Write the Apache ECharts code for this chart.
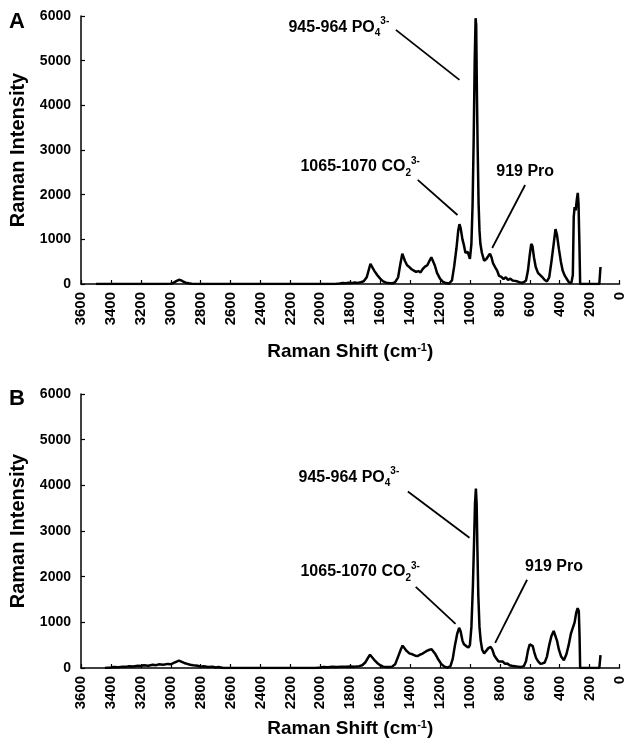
<!DOCTYPE html>
<html>
<head>
<meta charset="utf-8">
<script src="https://cdn.jsdelivr.net/npm/echarts@6/dist/echarts.min.js"></script>
<style>
  html, body { margin: 0; padding: 0; background: #fff; }
  #main { width: 627px; height: 745px; }
</style>
</head>
<body>
<div id="main"></div>
<script>
// panel A spectrum (Raman shift cm-1 -> intensity)
const shiftA = [
  3500, 3100, 3000, 2980, 2960, 2945, 2930, 2915, 2900, 2880, 2860, 2800,
  1900, 1870, 1850, 1830, 1810, 1790, 1770, 1750, 1730, 1710, 1690, 1675, 1665, 1655, 1640, 1620, 1600, 1580, 1560, 1540, 1520,
  1500, 1480, 1465, 1452, 1445, 1435, 1420, 1405, 1390, 1375, 1360, 1345, 1330, 1315, 1300, 1285, 1270, 1258, 1248, 1235, 1220, 1200, 1180, 1160, 1140,
  1120, 1105, 1090, 1078, 1070, 1062, 1050, 1040, 1030, 1015, 1000, 990, 982, 975, 968, 962, 958, 953, 948, 942, 936, 930,
  920, 905, 890, 878, 866, 856, 845, 832, 818, 805, 790, 775, 760, 745, 730, 715, 700, 685, 670, 655, 640,
  625, 612, 600, 590, 582, 572, 560, 545, 530, 515, 500, 485, 470, 455, 440, 428, 418, 405, 392, 380, 365, 350, 338, 322,
  312, 306, 300, 293, 285, 279, 274, 268, 263, 135, 128, 127
];
const intensityA = [
  0, 0, 5, 30, 70, 95, 80, 50, 30, 15, 5, 0,
  0, 10, 20, 15, 30, 20, 35, 25, 40, 60, 150, 330, 450, 420, 300, 200, 120, 60, 30, 20, 15,
  40, 150, 450, 680, 650, 520, 420, 380, 330, 300, 270, 290, 260, 340, 390, 420, 520, 600, 560, 420, 250, 120, 50, 20, 10,
  80, 400, 800, 1200, 1340, 1250, 1000, 870, 700, 720, 560, 900, 1800, 3200, 5000, 5950, 5800, 4200, 3000, 1800, 1200, 900,
  700, 520, 560, 620, 680, 600, 460, 380, 300, 180, 160, 110, 150, 90, 120, 80, 70, 60, 40, 30, 40,
  80, 300, 650, 900, 850, 600, 380, 250, 200, 150, 90, 60, 150, 500, 900, 1230, 1100, 780, 500, 300, 180, 100, 40, 20,
  200, 1500, 1720, 1650, 1900, 2040, 1800, 900, 0, 0, 0, 380
];

// panel B spectrum
const shiftB = [
  3440, 3400, 3380, 3350, 3320, 3300, 3280, 3250, 3220, 3200, 3180, 3150, 3120, 3100, 3080, 3050, 3020, 3000, 2980, 2960, 2945, 2930, 2910, 2890, 2870, 2850, 2820, 2800, 2780, 2750, 2720, 2700, 2680, 2650,
  2030, 2000, 1980, 1950, 1920, 1890, 1860, 1830, 1800, 1770, 1740, 1720, 1700, 1680, 1668, 1655, 1640, 1620, 1600, 1580, 1560, 1540, 1520,
  1500, 1480, 1460, 1450, 1440, 1425, 1405, 1385, 1365, 1350, 1335, 1320, 1300, 1285, 1270, 1256, 1245, 1230, 1210, 1190, 1170, 1150,
  1130, 1115, 1100, 1085, 1072, 1062, 1050, 1040, 1025, 1010, 1000, 990, 980, 972, 966, 960, 955, 950, 944, 936, 928,
  918, 905, 890, 875, 860, 850, 838, 822, 808, 795, 780, 765, 750, 735, 720, 700, 680, 660, 640,
  625, 612, 600, 590, 580, 570, 558, 545, 530, 515, 500, 485, 470, 455, 440, 430, 418, 405, 390, 372,
  355, 340, 325, 315, 300, 290, 280, 272, 267, 263, 135, 128, 127
];
const intensityB = [
  0, 10, 20, 15, 30, 25, 40, 35, 50, 45, 60, 50, 70, 60, 80, 70, 90, 80, 110, 140, 160, 140, 110, 90, 70, 60, 50, 30, 40, 20, 30, 10, 20, 0,
  0, 10, 20, 15, 25, 20, 30, 25, 35, 30, 40, 60, 120, 230, 290, 250, 180, 110, 60, 30, 20, 20, 30,
  80, 250, 420, 490, 460, 380, 320, 300, 270, 260, 290, 310, 350, 380, 400, 410, 380, 300, 180, 80, 30, 10,
  40, 200, 500, 750, 880, 800, 600, 520, 480, 450, 500, 900, 1800, 2800, 3600, 3930, 3600, 2600, 1600, 900, 600,
  400, 320, 380, 440, 460, 400, 280, 200, 140, 120, 140, 90, 100, 60, 50, 40, 30, 20, 40,
  150, 380, 520, 550, 480, 350, 220, 150, 95, 100, 120, 250, 500, 700, 810, 780, 600, 400, 250, 170,
  300, 500, 750, 850, 1000, 1200, 1310, 1250, 700, 0, 0, 0, 280
];

// annotation text anchors and leader lines, in data coordinates
const annotationsA = [
  { text: '{t|945-964 PO}{sub|4}{sup|3-}', at: [2213, 5750], from: [1495, 5690], to: [1070, 4570] },
  { text: '{t|1065-1070 CO}{sub|2}{sup|3-}', at: [2133, 2620], from: [1349, 2330], to: [1083, 1545] },
  { text: '{t|919 Pro}', at: [824, 2510], from: [631, 2217], to: [851, 806] }
];
const annotationsB = [
  { text: '{t|945-964 PO}{sub|4}{sup|3-}', at: [2146, 4170], from: [1415, 3863], to: [1003, 2854] },
  { text: '{t|1065-1070 CO}{sub|2}{sup|3-}', at: [2133, 2107], from: [1362, 1778], to: [1096, 966] },
  { text: '{t|919 Pro}', at: [631, 2217], from: [618, 1932], to: [831, 549] }
];

const FONT = '"Liberation Sans", Arial, Helvetica, sans-serif';

function pairs(xs, ys) {
  return xs.map((x, i) => [x, ys[i]]);
}

function makeXAxis(gridIndex, gap) {
  return {
    type: 'value',
    gridIndex: gridIndex,
    min: 0,
    max: 3600,
    interval: 200,
    inverse: true,
    name: 'Raman Shift (cm{sup|-1})',
    nameLocation: 'middle',
    nameGap: gap,
    nameTextStyle: {
      fontFamily: FONT, fontWeight: 'bold', fontSize: 19, color: '#000',
      rich: { sup: { fontFamily: FONT, fontWeight: 'bold', fontSize: 11, color: '#000', verticalAlign: 'top' } }
    },
    axisLine: { onZero: false, lineStyle: { color: '#000', width: 1.5 } },
    axisTick: { inside: true, length: 4, lineStyle: { color: '#000', width: 1.2 } },
    axisLabel: {
      rotate: 90, margin: 8, color: '#000',
      fontFamily: FONT, fontWeight: 'bold', fontSize: 15,
      showMinLabel: true, showMaxLabel: true,
      formatter: v => String(v)
    },
    splitLine: { show: false }
  };
}

function makeYAxis(gridIndex) {
  return {
    type: 'value',
    gridIndex: gridIndex,
    min: 0,
    max: 6000,
    interval: 1000,
    name: 'Raman Intensity',
    nameLocation: 'middle',
    nameGap: 52,
    nameTextStyle: { fontFamily: FONT, fontWeight: 'bold', fontSize: 20, color: '#000' },
    axisLine: { show: true, onZero: false, lineStyle: { color: '#000', width: 1.5 } },
    axisTick: { show: true, inside: true, length: 4, lineStyle: { color: '#000', width: 1.2 } },
    axisLabel: { margin: 10, color: '#000', fontFamily: FONT, fontWeight: 'bold', fontSize: 14, formatter: v => String(v) },
    splitLine: { show: false }
  };
}

function makeSeries(idx, xs, ys) {
  return {
    type: 'line',
    xAxisIndex: idx,
    yAxisIndex: idx,
    data: pairs(xs, ys),
    showSymbol: false,
    symbol: 'none',
    lineStyle: { color: '#000', width: 2.5 },
    animation: false
  };
}

const chart = echarts.init(document.getElementById('main'));
chart.setOption({
  animation: false,
  backgroundColor: '#fff',
  grid: [
    { left: 81, top: 16, width: 542, height: 268 },
    { left: 81, top: 394, width: 542, height: 274 }
  ],
  xAxis: [makeXAxis(0, 58), makeXAxis(1, 51)],
  yAxis: [makeYAxis(0), makeYAxis(1)],
  series: [makeSeries(0, shiftA, intensityA), makeSeries(1, shiftB, intensityB)]
});

const RICH = {
  t: { fontFamily: FONT, fontWeight: 'bold', fontSize: 16, fill: '#000', lineHeight: 22 },
  sub: { fontFamily: FONT, fontWeight: 'bold', fontSize: 10, fill: '#000', verticalAlign: 'bottom', lineHeight: 22 },
  sup: { fontFamily: FONT, fontWeight: 'bold', fontSize: 10, fill: '#000', verticalAlign: 'top', lineHeight: 22 }
};

function annotationGraphics(gridIndex, list) {
  const out = [];
  list.forEach(a => {
    const p = chart.convertToPixel({ gridIndex: gridIndex }, a.at);
    const p1 = chart.convertToPixel({ gridIndex: gridIndex }, a.from);
    const p2 = chart.convertToPixel({ gridIndex: gridIndex }, a.to);
    out.push({
      type: 'line',
      shape: { x1: p1[0], y1: p1[1], x2: p2[0], y2: p2[1] },
      style: { stroke: '#000', lineWidth: 1.8 }
    });
    out.push({
      type: 'text',
      x: p[0],
      y: p[1],
      style: {
        text: a.text, rich: RICH, fill: '#000',
        align: 'left', verticalAlign: 'middle',
        textAlign: 'left', textVerticalAlign: 'middle'
      }
    });
  });
  return out;
}

const panelLabels = [
  { type: 'text', left: 9, top: 11, style: { text: 'A', font: 'bold 22px ' + FONT, fill: '#000' } },
  { type: 'text', left: 9, top: 388, style: { text: 'B', font: 'bold 22px ' + FONT, fill: '#000' } }
];

chart.setOption({
  graphic: panelLabels.concat(annotationGraphics(0, annotationsA), annotationGraphics(1, annotationsB))
});
</script>
</body>
</html>
